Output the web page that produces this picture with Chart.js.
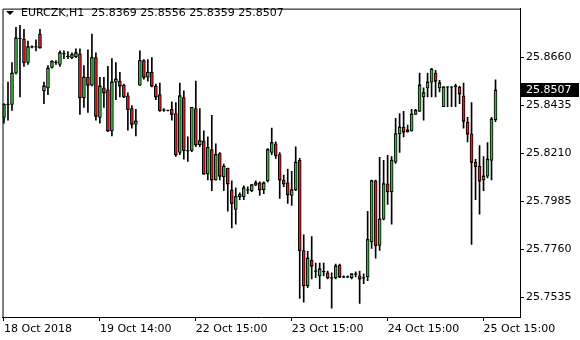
<!DOCTYPE html>
<html>
<head>
<meta charset="utf-8">
<script src="https://cdn.jsdelivr.net/npm/chart.js@4.4.1/dist/chart.umd.min.js"></script>
<style>
html, body { margin: 0; padding: 0; background: #fff; }
</style>
</head>
<body>
<canvas id="chart" width="580" height="340"></canvas>
<script>
// EURCZK H1 candles
const opens = [
25.8380, 25.8440, 25.8440, 25.8587, 25.8752, 25.8747, 25.8637, 25.8711, 25.8710, 25.8770,
25.8504, 25.8518, 25.8614, 25.8637, 25.8628, 25.8679, 25.8665, 25.8660, 25.8665, 25.8678,
25.8472, 25.8568, 25.8531, 25.8660, 25.8380, 25.8518, 25.8509, 25.8316, 25.8545, 25.8550,
25.8531, 25.8481, 25.8421, 25.8348, 25.8531, 25.8646, 25.8568, 25.8591, 25.8527, 25.8486,
25.8415, 25.8412, 25.8417, 25.8398, 25.8215, 25.8472, 25.8224, 25.8224, 25.8421, 25.8251,
25.8270, 25.8114, 25.8228, 25.8086, 25.8210, 25.8100, 25.8141, 25.8040, 25.7948, 25.8008,
25.8008, 25.8040, 25.8036, 25.8061, 25.8072, 25.8040, 25.8082, 25.8215, 25.8256, 25.8205,
25.8086, 25.8072, 25.8013, 25.8040, 25.8178, 25.7755, 25.7590, 25.7710, 25.7659, 25.7636,
25.7657, 25.7650, 25.7627, 25.7627, 25.7687, 25.7630, 25.7632, 25.7627, 25.7645, 25.7636,
25.7627, 25.7631, 25.7797, 25.8082, 25.7779, 25.7902, 25.8068, 25.8031, 25.8169, 25.8302,
25.8334, 25.8311, 25.8316, 25.8394, 25.8408, 25.8476, 25.8518, 25.8545, 25.8587, 25.8518,
25.8430, 25.8522, 25.8522, 25.8522, 25.8522, 25.8481, 25.8357, 25.8302, 25.8169, 25.8150,
25.8086, 25.8104, 25.8178, 25.8369
]
const highs = [
25.8444, 25.8545, 25.8637, 25.8802, 25.8812, 25.8793, 25.8738, 25.8715, 25.8743, 25.8793,
25.8545, 25.8623, 25.8646, 25.8646, 25.8692, 25.8692, 25.8688, 25.8683, 25.8701, 25.8701,
25.8623, 25.8697, 25.8770, 25.8683, 25.8568, 25.8568, 25.8619, 25.8655, 25.8637, 25.8591,
25.8536, 25.8495, 25.8435, 25.8417, 25.8692, 25.8651, 25.8651, 25.8660, 25.8536, 25.8541,
25.8421, 25.8414, 25.8453, 25.8449, 25.8541, 25.8504, 25.8288, 25.8427, 25.8550, 25.8421,
25.8316, 25.8288, 25.8389, 25.8256, 25.8215, 25.8160, 25.8142, 25.8082, 25.8049, 25.8026,
25.8058, 25.8054, 25.8064, 25.8082, 25.8077, 25.8077, 25.8233, 25.8329, 25.8265, 25.8215,
25.8109, 25.8137, 25.8127, 25.8242, 25.8187, 25.7829, 25.7751, 25.7820, 25.7696, 25.7696,
25.7696, 25.7659, 25.7650, 25.7691, 25.7691, 25.7636, 25.7636, 25.7646, 25.7655, 25.7659,
25.7645, 25.7939, 25.8086, 25.8086, 25.8192, 25.8178, 25.8201, 25.8196, 25.8375, 25.8398,
25.8408, 25.8343, 25.8417, 25.8417, 25.8587, 25.8518, 25.8587, 25.8610, 25.8600, 25.8554,
25.8523, 25.8523, 25.8523, 25.8536, 25.8527, 25.8541, 25.8380, 25.8449, 25.8183, 25.8247,
25.8196, 25.8261, 25.8380, 25.8556
]
const lows = [
25.8352, 25.8366, 25.8412, 25.8582, 25.8476, 25.8619, 25.8628, 25.8706, 25.8692, 25.8706,
25.8444, 25.8486, 25.8610, 25.8628, 25.8619, 25.8655, 25.8655, 25.8655, 25.8660, 25.8394,
25.8426, 25.8403, 25.8527, 25.8366, 25.8352, 25.8426, 25.8314, 25.8293, 25.8463, 25.8476,
25.8472, 25.8320, 25.8329, 25.8293, 25.8530, 25.8559, 25.8550, 25.8522, 25.8463, 25.8408,
25.8408, 25.8410, 25.8366, 25.8196, 25.8205, 25.8183, 25.8173, 25.8219, 25.8242, 25.8242,
25.8113, 25.8086, 25.8036, 25.8085, 25.8086, 25.8036, 25.7939, 25.7861, 25.7879, 25.7994,
25.7994, 25.8022, 25.8031, 25.8059, 25.8013, 25.8022, 25.8077, 25.8205, 25.8187, 25.7999,
25.8054, 25.7976, 25.7967, 25.8036, 25.7530, 25.7512, 25.7581, 25.7622, 25.7627, 25.7576,
25.7636, 25.7622, 25.7484, 25.7622, 25.7627, 25.7627, 25.7627, 25.7622, 25.7631, 25.7507,
25.7599, 25.7613, 25.7765, 25.7719, 25.7755, 25.7898, 25.7971, 25.7879, 25.8164, 25.8215,
25.8288, 25.8310, 25.8315, 25.8393, 25.8407, 25.8366, 25.8476, 25.8476, 25.8476, 25.8499,
25.8430, 25.8430, 25.8430, 25.8430, 25.8444, 25.8329, 25.8265, 25.7783, 25.7994, 25.7925,
25.8036, 25.8095, 25.8086, 25.8359
]
const closes = [
25.8440, 25.8441, 25.8587, 25.8752, 25.8750, 25.8637, 25.8711, 25.8710, 25.8711, 25.8706,
25.8527, 25.8610, 25.8642, 25.8638, 25.8683, 25.8678, 25.8666, 25.8674, 25.8683, 25.8472,
25.8568, 25.8531, 25.8660, 25.8385, 25.8527, 25.8495, 25.8316, 25.8545, 25.8559, 25.8527,
25.8476, 25.8417, 25.8348, 25.8362, 25.8646, 25.8568, 25.8591, 25.8527, 25.8476, 25.8412,
25.8414, 25.8412, 25.8394, 25.8205, 25.8481, 25.8224, 25.8223, 25.8426, 25.8251, 25.8270,
25.8114, 25.8238, 25.8086, 25.8205, 25.8104, 25.8150, 25.8068, 25.7976, 25.8008, 25.8017,
25.8049, 25.8039, 25.8063, 25.8072, 25.8040, 25.8072, 25.8228, 25.8261, 25.8201, 25.8086,
25.8068, 25.8017, 25.8040, 25.8169, 25.7755, 25.7590, 25.7719, 25.7682, 25.7658, 25.7668,
25.7656, 25.7627, 25.7626, 25.7682, 25.7631, 25.7631, 25.7631, 25.7645, 25.7644, 25.7622,
25.7626, 25.7806, 25.8082, 25.7779, 25.7902, 25.8068, 25.8031, 25.8178, 25.8302, 25.8334,
25.8311, 25.8320, 25.8394, 25.8412, 25.8531, 25.8495, 25.8545, 25.8605, 25.8550, 25.8541,
25.8522, 25.8522, 25.8522, 25.8527, 25.8490, 25.8362, 25.8302, 25.8169, 25.8150, 25.8082,
25.8104, 25.8183, 25.8371, 25.8507
]

const xTickIdx = [0, 24, 48, 72, 96, 120]
const xLabels = ['18 Oct 2018', '19 Oct 14:00', '22 Oct 15:00', '23 Oct 15:00', '24 Oct 15:00', '25 Oct 15:00']
const yTicks = [25.7535, 25.7760, 25.7985, 25.8210, 25.8435, 25.8660]

const symbol = 'EURCZK,H1'
const bull = '#3cb43c'
const bear = '#e01e1e'
const font = { family: 'DejaVu Sans', size: 11 }

Chart.defaults.font.family = font.family
Chart.defaults.font.size = font.size
Chart.defaults.color = '#000'

const last = closes.length - 1
const bodies = opens.map((o, i) => ({ x: i, y: [o, closes[i]] }))
const wicks = lows.map((l, i) => ({ x: i, y: [l, highs[i]] }))
const dashes = closes.map((c, i) => ({ x: i, y: c }))
const fills = opens.map((o, i) => closes[i] >= o ? bull : bear)

// frame, header line and the current price box
const extras = {
    id: 'extras',
    afterDraw(chart) {
        const { ctx, chartArea: a } = chart
        ctx.save()
        ctx.strokeStyle = '#000'
        ctx.lineWidth = 1
        ctx.beginPath()
        ctx.moveTo(a.left + 0.5, a.bottom)
        ctx.lineTo(a.left + 0.5, a.top + 0.5)
        ctx.lineTo(a.right, a.top + 0.5)
        ctx.stroke()

        ctx.fillStyle = '#000'
        ctx.beginPath()
        ctx.moveTo(6, 11)
        ctx.lineTo(14, 11)
        ctx.lineTo(10, 15)
        ctx.closePath()
        ctx.fill()

        ctx.font = font.size + 'px ' + font.family
        ctx.textBaseline = 'middle'
        ctx.textAlign = 'left'
        const ohlc = [opens[last], highs[last], lows[last], closes[last]].map(v => v.toFixed(4)).join(' ')
        ctx.fillText(symbol + '  ' + ohlc, 21, 13)

        const y = Math.round(chart.scales.y.getPixelForValue(closes[last]))
        ctx.fillRect(a.right + 1, y - 7, 58, 14)
        ctx.fillStyle = '#fff'
        ctx.fillText(closes[last].toFixed(4), a.right + 6, y)
        ctx.restore()
    }
}

new Chart(document.getElementById('chart'), {
    type: 'bar',
    data: {
        datasets: [
            {
                type: 'line',
                data: dashes,
                showLine: false,
                pointStyle: 'line',
                pointRadius: 1.5,
                pointHoverRadius: 1.5,
                pointBorderWidth: 1,
                pointBorderColor: '#000',
                order: 0
            },
            {
                data: bodies,
                backgroundColor: fills,
                borderColor: '#000',
                borderWidth: 1,
                borderSkipped: false,
                barThickness: 3,
                grouped: false,
                order: 1
            },
            {
                data: wicks,
                backgroundColor: '#000',
                borderWidth: 0,
                barThickness: 1,
                grouped: false,
                order: 2
            }
        ]
    },
    options: {
        responsive: false,
        animation: false,
        layout: { padding: { top: 2, left: 2, right: 0, bottom: 0 } },
        plugins: { legend: { display: false }, tooltip: { enabled: false } },
        scales: {
            x: {
                type: 'linear',
                min: -0.375,
                max: 129.125,
                bounds: 'data',
                offset: false,
                afterBuildTicks: s => { s.ticks = xTickIdx.map(v => ({ value: v })) },
                afterFit: s => { s.height = 23 },
                ticks: {
                    autoSkip: false,
                    maxRotation: 0,
                    align: 'start',
                    padding: 2,
                    color: '#000',
                    callback: v => xLabels[xTickIdx.indexOf(v)]
                },
                grid: { offset: false, drawOnChartArea: false, drawTicks: true, tickLength: 4, color: '#000' },
                border: { display: true, color: '#000' }
            },
            y: {
                position: 'right',
                min: 25.7443,
                max: 25.8890,
                bounds: 'data',
                afterBuildTicks: s => { s.ticks = yTicks.map(v => ({ value: v })) },
                afterFit: s => { s.width = 60 },
                ticks: {
                    padding: 2,
                    color: '#000',
                    callback: v => v.toFixed(4)
                },
                grid: { drawOnChartArea: false, drawTicks: true, tickLength: 4, color: '#000' },
                border: { display: true, color: '#000' }
            }
        }
    },
    plugins: [extras]
})
</script>
</body>
</html>
